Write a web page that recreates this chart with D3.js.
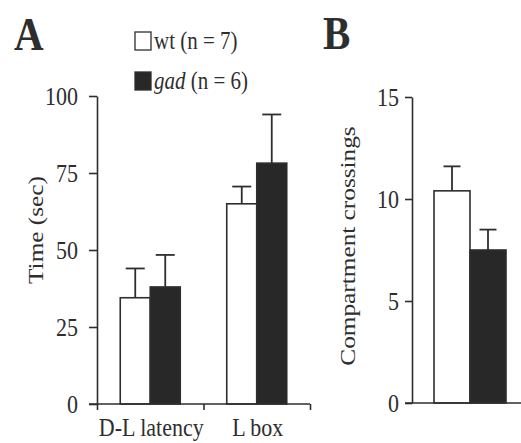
<!DOCTYPE html>
<html>
<head>
<meta charset="utf-8">
<script src="https://cdn.jsdelivr.net/npm/d3@7"></script>
<style>
body { margin: 0; background: #fff; }
.axis path, .axis line { stroke: #2e2e2e; stroke-width: 1.6px; }
</style>
</head>
<body>
<div id="chart"></div>
<script>
// panel A: time in seconds
var categoriesA = ["D-L latency", "L box"];
var wtA = [34.5, 65];
var wtErrA = [9.5, 5.6];
var gadA = [38, 78.2];
var gadErrA = [10.4, 15.8];
var ticksA = [0, 25, 50, 75, 100];

// panel B: compartment crossings
var categoriesB = ["crossings"];
var wtB = [10.4];
var wtErrB = [1.2];
var gadB = [7.5];
var gadErrB = [1.0];
var ticksB = [0, 5, 10, 15];

var series = ["wt", "gad"];
var fillColor = { wt: "#ffffff", gad: "#282828" };
var ink = "#2e2e2e";
var serif = "'Liberation Serif', 'Times New Roman', Times, serif";
var sy = "scale(1,1.15)";

var svg = d3.select("#chart").append("svg")
  .attr("width", 521)
  .attr("height", 443)
  .style("font-family", serif);

function drawPanel(opt) {
  var x = d3.scaleBand().domain(opt.categories).range(opt.xRange);
  var y = d3.scaleLinear().domain(opt.yDomain).range([opt.y0, opt.yTop]);
  var bw = x.bandwidth();
  var x1 = d3.scaleBand().domain(series)
    .range([bw / 2 - opt.barW, bw / 2 + opt.barW]);

  var rows = [];
  opt.categories.forEach(function(c, i) {
    rows.push({ cat: c, s: "wt", v: opt.wt[i], e: opt.wtErr[i] });
    rows.push({ cat: c, s: "gad", v: opt.gad[i], e: opt.gadErr[i] });
  });

  var g = svg.append("g");

  // error bars, upper half only
  var eb = g.selectAll(".eb").data(rows).enter().append("g");
  eb.append("line")
    .attr("x1", function(d) { return x(d.cat) + x1(d.s) + x1.bandwidth() / 2; })
    .attr("x2", function(d) { return x(d.cat) + x1(d.s) + x1.bandwidth() / 2; })
    .attr("y1", function(d) { return y(d.v); })
    .attr("y2", function(d) { return y(d.v + d.e); })
    .attr("stroke", ink).attr("stroke-width", 1.8);
  eb.append("line")
    .attr("x1", function(d) { return x(d.cat) + x1(d.s) + x1.bandwidth() / 2 - opt.cap / 2; })
    .attr("x2", function(d) { return x(d.cat) + x1(d.s) + x1.bandwidth() / 2 + opt.cap / 2; })
    .attr("y1", function(d) { return y(d.v + d.e); })
    .attr("y2", function(d) { return y(d.v + d.e); })
    .attr("stroke", ink).attr("stroke-width", 1.8);

  g.selectAll(".bar").data(rows).enter().append("rect")
    .attr("x", function(d) { return x(d.cat) + x1(d.s); })
    .attr("y", function(d) { return y(d.v); })
    .attr("width", x1.bandwidth())
    .attr("height", function(d) { return y(0) - y(d.v); })
    .attr("fill", function(d) { return fillColor[d.s]; })
    .attr("stroke", ink)
    .attr("stroke-width", 1.6);

  // y axis
  var ya = g.append("g").attr("class", "axis")
    .attr("transform", "translate(" + opt.xRange[0] + ",0)")
    .call(d3.axisLeft(y).tickValues(opt.ticks).tickSize(opt.tickLen)
      .tickSizeOuter(0).tickPadding(opt.tickPad));
  ya.attr("font-family", serif).attr("font-size", 22);
  ya.selectAll("text").attr("transform", sy).attr("fill", ink);

  // x axis line
  var xb = d3.scaleLinear().domain([0, opt.categories.length]).range(opt.xRange);
  var xa = g.append("g").attr("class", "axis")
    .attr("transform", "translate(0," + opt.y0 + ")")
    .call(d3.axisBottom(xb).ticks(opt.categories.length)
      .tickSize(opt.xTicks ? 6 : 0).tickSizeOuter(0).tickFormat(""));
  xa.select(".domain").attr("d", "M" + (opt.xRange[0] - opt.tickLen) + ",0H" + opt.xRange[1]);

  if (opt.showCats) {
    g.selectAll(".cat").data(opt.categories).enter().append("text")
      .attr("transform", function(d) {
        return "translate(" + (x(d) + bw / 2 + 1) + "," + opt.catY + ") " + sy;
      })
      .attr("text-anchor", "middle")
      .attr("font-family", serif)
      .attr("font-size", 22)
      .attr("fill", ink)
      .text(function(d) { return d; });
  }

  g.append("text")
    .attr("transform", "translate(" + opt.labelX + "," + ((opt.y0 + opt.yTop) / 2 + opt.labelDy) + ") " + sy + " rotate(-90)")
    .attr("text-anchor", "middle")
    .attr("font-family", serif)
    .attr("font-size", 22)
    .attr("fill", ink)
    .text(opt.label);

  g.append("text")
    .attr("transform", "translate(" + opt.letterX + "," + opt.letterY + ") " + sy)
    .attr("font-family", serif)
    .attr("font-size", 41)
    .attr("font-weight", "bold")
    .attr("fill", ink)
    .text(opt.letter);
}

drawPanel({
  categories: categoriesA, wt: wtA, wtErr: wtErrA, gad: gadA, gadErr: gadErrA,
  ticks: ticksA, yDomain: [0, 100], y0: 404, yTop: 96,
  xRange: [97, 310], barW: 30, cap: 19, tickLen: 8, tickPad: 11,
  xTicks: true, showCats: true, catY: 436,
  label: "Time (sec)", labelX: 43, labelDy: -20,
  letter: "A", letterX: 14, letterY: 50
});

drawPanel({
  categories: categoriesB, wt: wtB, wtErr: wtErrB, gad: gadB, gadErr: gadErrB,
  ticks: ticksB, yDomain: [0, 15], y0: 403, yTop: 97,
  xRange: [412, 528], barW: 36, cap: 17, tickLen: 7, tickPad: 6,
  xTicks: false, showCats: false,
  label: "Compartment crossings", labelX: 355, labelDy: -4,
  letter: "B", letterX: 323, letterY: 49
});

// legend
var legendData = [
  { s: "wt", name: "wt", n: " (n = 7)", y: 32 },
  { s: "gad", name: "gad", n: " (n = 6)", y: 72 }
];
var lg = svg.selectAll(".legend").data(legendData).enter().append("g")
  .attr("transform", function(d) { return "translate(135," + d.y + ")"; });
lg.append("rect")
  .attr("width", 16).attr("height", 18)
  .attr("fill", function(d) { return fillColor[d.s]; })
  .attr("stroke", ink).attr("stroke-width", 1.3);
var lt = lg.append("text")
  .attr("transform", "translate(19,17) " + sy)
  .attr("font-family", serif)
  .attr("font-size", 21)
  .attr("fill", ink);
lt.append("tspan")
  .attr("font-style", function(d) { return d.s == "gad" ? "italic" : "normal"; })
  .text(function(d) { return d.name; });
lt.append("tspan").text(function(d) { return d.n; });
</script>
</body>
</html>
